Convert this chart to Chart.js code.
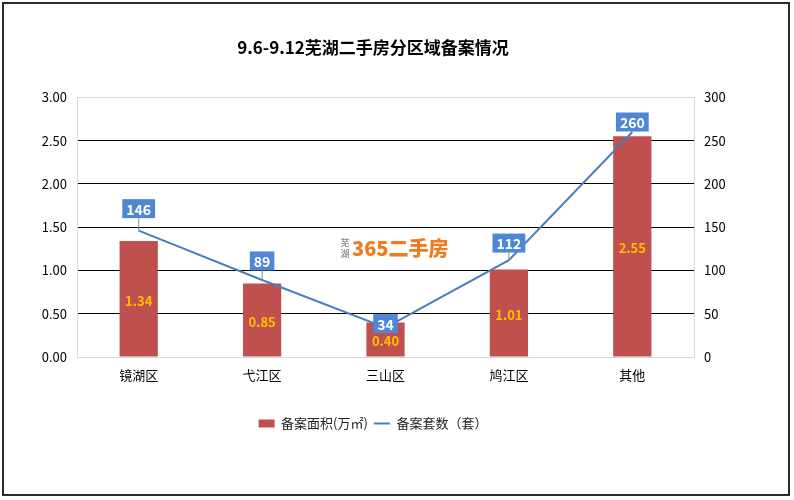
<!DOCTYPE html>
<html>
<head>
<meta charset="utf-8">
<script src="https://cdn.jsdelivr.net/npm/chart.js@4"></script>
<style>
  body { margin: 0; background: #fff; }
</style>
</head>
<body>
<canvas id="myCanvas" width="794" height="500"></canvas>
<script>
const categories = ["镜湖区", "弋江区", "三山区", "鸠江区", "其他"];
const areaValues = [1.34, 0.85, 0.40, 1.01, 2.55];
const countValues = [146, 89, 34, 112, 260];
const leftTicks = [0, 0.5, 1, 1.5, 2, 2.5, 3];
const rightTicks = [0, 50, 100, 150, 200, 250, 300];

const FONT = "'Noto Sans CJK SC', 'Noto Sans', sans-serif";
// label box offset above each point (Excel pushed some of them)
const boxOffsets = [-22, -19, -4, -17, -10];

const labelsPlugin = {
  id: "labels",
  beforeDraw(chart) {
    const ctx = chart.ctx;
    ctx.save();
    ctx.fillStyle = "#fff";
    ctx.fillRect(0, 0, chart.width, chart.height);
    ctx.restore();
  },
  beforeDatasetsDraw(chart) {
    // watermark
    const ctx = chart.ctx;
    ctx.save();
    ctx.fillStyle = "#9a9a9a";
    ctx.font = "bold 9px " + FONT;
    ctx.textAlign = "center";
    ctx.textBaseline = "middle";
    ctx.fillText("芜", 345, 243);
    ctx.fillText("湖", 345, 254);
    ctx.fillStyle = "#f07a1c";
    ctx.font = "900 20px " + FONT;
    ctx.textAlign = "left";
    ctx.fillText("365二手房", 352, 248);
    ctx.restore();
  },
  afterDatasetsDraw(chart) {
    const ctx = chart.ctx;
    ctx.save();
    // bar values
    const bars = chart.getDatasetMeta(0).data;
    ctx.font = "bold 13px " + FONT;
    ctx.fillStyle = "#ffc000";
    ctx.textAlign = "center";
    ctx.textBaseline = "middle";
    bars.forEach((b, i) => {
      ctx.fillText(areaValues[i].toFixed(2), b.x, (b.y + b.base) / 2 + 2);
    });
    // line values in blue boxes
    const pts = chart.getDatasetMeta(1).data;
    ctx.font = "bold 14px " + FONT;
    pts.forEach((p, i) => {
      const txt = String(countValues[i]);
      const w = ctx.measureText(txt).width + 8;
      const h = 19;
      const cy = p.y + boxOffsets[i];
      if (cy + h / 2 < p.y - 2) {
        ctx.strokeStyle = "#8c8c8c";
        ctx.lineWidth = 1;
        ctx.beginPath();
        ctx.moveTo(p.x, cy + h / 2);
        ctx.lineTo(p.x, p.y);
        ctx.stroke();
      }
      ctx.fillStyle = "#4f86d6";
      ctx.fillRect(p.x - w / 2, cy - h / 2, w, h);
      ctx.fillStyle = "#fff";
      ctx.fillText(txt, p.x, cy + 1);
    });
    ctx.restore();
  },
  afterDraw(chart) {
    const ctx = chart.ctx;
    ctx.save();
    ctx.strokeStyle = "#2a2a2a";
    ctx.lineWidth = 2;
    ctx.strokeRect(3, 3, 786, 492);
    ctx.restore();
  }
};

const gridColor = (ctx) =>
  ctx.index === 0 || ctx.index === leftTicks.length - 1 ? "#d9d9d9" : "#000";

new Chart(document.getElementById("myCanvas"), {
  data: {
    labels: categories,
    datasets: [
      {
        type: "bar",
        label: "备案面积(万㎡)",
        data: areaValues,
        backgroundColor: "#c0504d",
        barPercentage: 0.31,
        categoryPercentage: 1,
        yAxisID: "y",
        pointStyle: "rect",
        order: 2,
      },
      {
        type: "line",
        label: "备案套数（套）",
        data: countValues,
        borderColor: "#4a7ebb",
        backgroundColor: "#4a7ebb",
        borderWidth: 2,
        pointRadius: 0,
        pointStyle: "line",
        tension: 0,
        yAxisID: "y1",
        order: 1,
      },
    ],
  },
  options: {
    responsive: false,
    animation: false,
    layout: { padding: { left: 0, right: 48, top: 0, bottom: 60 } },
    plugins: {
      title: {
        display: true,
        text: "9.6-9.12芜湖二手房分区域备案情况",
        color: "#000",
        font: { family: FONT, size: 17, weight: "bold" },
        padding: { top: 37, bottom: 40 },
      },
      legend: {
        position: "bottom",
        labels: {
          usePointStyle: true,
          pointStyleWidth: 16,
          boxWidth: 16,
          boxHeight: 8,
          color: "#222",
          font: { family: FONT, size: 13 },
          padding: 6,
          sort: (a, b) => a.datasetIndex - b.datasetIndex,
        },
      },
      tooltip: { enabled: false },
    },
    scales: {
      x: {
        grid: { display: false, drawTicks: false },
        border: { color: "#d9d9d9" },
        ticks: { color: "#000", font: { family: FONT, size: 13 }, padding: 10 },
        afterFit: (s) => { s.height = 54; },
      },
      y: {
        position: "left",
        min: 0,
        max: 3,
        afterBuildTicks: (s) => { s.ticks = leftTicks.map((v) => ({ value: v })); },
        grid: { color: gridColor, drawTicks: false, lineWidth: 1 },
        border: { color: "#d9d9d9" },
        ticks: {
          color: "#000",
          font: { family: FONT, size: 13 },
          padding: 10,
          callback: (v) => Number(v).toFixed(2),
        },
        afterFit: (s) => { s.width = 77; },
      },
      y1: {
        position: "right",
        min: 0,
        max: 300,
        afterBuildTicks: (s) => { s.ticks = rightTicks.map((v) => ({ value: v })); },
        grid: { display: false, drawTicks: false },
        border: { color: "#d9d9d9" },
        ticks: { color: "#000", font: { family: FONT, size: 13 }, padding: 10 },
        afterFit: (s) => { s.width = 52; },
      },
    },
  },
  plugins: [labelsPlugin],
});
</script>
</body>
</html>
